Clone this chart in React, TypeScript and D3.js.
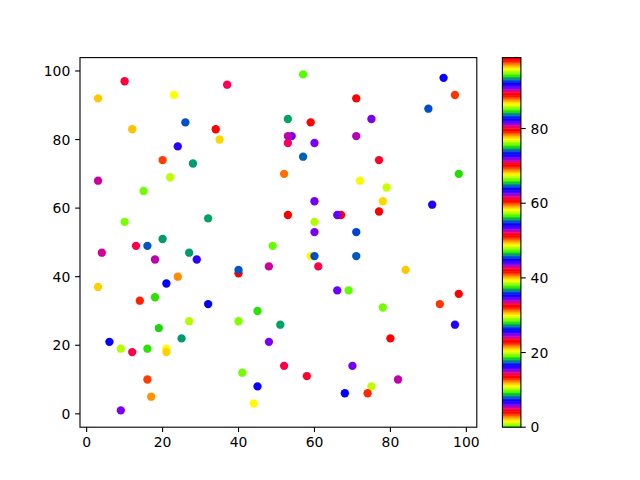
import React, { useEffect, useRef } from "react";
import * as d3 from "d3";

// scatter data
const xs = [10, 37, 3, 23, 26, 12, 34, 35, 24, 20, 28, 3, 22, 15, 32, 10, 20, 13, 16, 49,
  52, 57, 94, 97, 71, 90, 53, 59, 75, 53, 54, 53, 60, 71, 57, 77, 98, 72, 79, 78,
  60, 91, 53, 67, 66, 77, 60, 60, 71, 4, 27, 18, 29, 48, 40, 40, 24, 3, 21, 14,
  18, 32, 27, 40, 45, 51, 19, 25, 6, 9, 12, 16, 21, 21, 48, 16, 17, 9, 41, 45,
  44, 59, 60, 71, 61, 84, 66, 69, 98, 93, 78, 97, 80, 52, 58, 70, 82, 75, 68, 74];
const ys = [97, 96, 92, 93, 85, 83, 83, 80, 78, 74, 73, 68, 69, 65, 57, 56, 51, 49, 49, 49,
  70, 99, 98, 93, 92, 89, 86, 85, 86, 79, 81, 81, 79, 81, 75, 74, 70, 68, 66, 62,
  62, 61, 58, 58, 58, 59, 56, 53, 53, 47, 47, 45, 45, 43, 41, 42, 40, 37, 38, 33,
  34, 32, 27, 27, 30, 26, 25, 22, 21, 19, 18, 19, 19, 18, 21, 10, 5, 1, 12, 8,
  3, 46, 46, 46, 43, 42, 36, 36, 35, 32, 31, 26, 22, 14, 11, 14, 10, 8, 6, 6];
const cs = [33, 71, 40, 11, 55, 59, 4, 2, 54, 41, 18, 43, 67, 57, 84, 76, 65, 52, 74, 38,
  88, 0, 7, 60, 99, 8, 37, 23, 6, 90, 25, 62, 53, 81, 93, 14, 28, 96, 86, 2,
  72, 73, 42, 89, 91, 70, 48, 53, 36, 24, 65, 15, 35, 43, 61, 27, 31, 21, 45, 51,
  47, 26, 48, 95, 94, 37, 9, 65, 26, 1, 5, 94, 30, 21, 53, 41, 12, 6, 10, 7,
  77, 96, 8, 74, 52, 40, 91, 19, 89, 60, 10, 73, 70, 52, 14, 25, 62, 20, 45, 79];

const xTicks = [0, 20, 40, 60, 80, 100];
const yTicks = [0, 20, 40, 60, 80, 100];
const cTicks = [0, 20, 40, 60, 80];

// matplotlib "prism", reversed
const prism = (x: number) => {
  const clip = (v: number) => Math.max(0, Math.min(1, v));
  const r = clip(0.75 * Math.sin((x * 20.9 + 0.25) * Math.PI) + 0.67);
  const g = clip(0.75 * Math.sin((x * 20.9 - 0.25) * Math.PI) + 0.33);
  const b = clip(-1.1 * Math.sin(x * 20.9 * Math.PI));
  return d3.rgb(r * 255, g * 255, b * 255).formatHex();
};
const lut = d3.range(256).map((i) => prism(1 - i / 255));

const App: React.FC = () => {
  const ref = useRef<SVGSVGElement | null>(null);

  useEffect(() => {
    if (!ref.current) return;
    const svg = d3.select(ref.current);
    svg.selectAll("*").remove();

    const left = 80, right = 476.8, top = 57.6, bottom = 427.2;
    const cbLeft = 502.4, cbRight = 520.9;
    const font = "DejaVu Sans, sans-serif";
    const fs = 13.9;
    const tick = 4.86;

    const cmin = d3.min(cs) as number;
    const cmax = d3.max(cs) as number;
    const colorOf = (c: number) => {
      let i = Math.floor(((c - cmin) / (cmax - cmin)) * 256);
      if (i > 255) i = 255;
      return lut[i];
    };

    const xPad = ((d3.max(xs) as number) - (d3.min(xs) as number)) * 0.05;
    const yPad = ((d3.max(ys) as number) - (d3.min(ys) as number)) * 0.05;
    const x = d3.scaleLinear().domain([(d3.min(xs) as number) - xPad, (d3.max(xs) as number) + xPad]).range([left, right]);
    const y = d3.scaleLinear().domain([(d3.min(ys) as number) - yPad, (d3.max(ys) as number) + yPad]).range([bottom, top]);
    const cy = d3.scaleLinear().domain([cmin, cmax]).range([bottom, top]);

    svg.append("rect").attr("width", 640).attr("height", 480).attr("fill", "white");

    // points
    svg.append("g")
      .selectAll("circle")
      .data(d3.range(xs.length))
      .enter()
      .append("circle")
      .attr("cx", (i) => x(xs[i]))
      .attr("cy", (i) => y(ys[i]))
      .attr("r", 4.17)
      .attr("fill", (i) => colorOf(cs[i]));

    // frame
    svg.append("rect")
      .attr("x", left).attr("y", top)
      .attr("width", right - left).attr("height", bottom - top)
      .attr("fill", "none").attr("stroke", "black").attr("stroke-width", 1.11);

    const xg = svg.append("g");
    xTicks.forEach((t) => {
      xg.append("line").attr("x1", x(t)).attr("x2", x(t)).attr("y1", bottom).attr("y2", bottom + tick)
        .attr("stroke", "black").attr("stroke-width", 1.11);
      xg.append("text").attr("x", x(t)).attr("y", bottom + tick + 4.86 + 10.3)
        .attr("text-anchor", "middle").attr("font-family", font).attr("font-size", fs).text(t);
    });
    const yg = svg.append("g");
    yTicks.forEach((t) => {
      yg.append("line").attr("x1", left - tick).attr("x2", left).attr("y1", y(t)).attr("y2", y(t))
        .attr("stroke", "black").attr("stroke-width", 1.11);
      yg.append("text").attr("x", left - tick - 4.86).attr("y", y(t) + 5.1)
        .attr("text-anchor", "end").attr("font-family", font).attr("font-size", fs).text(t);
    });

    // colorbar
    const bands = d3.range(256);
    svg.append("g")
      .selectAll("rect")
      .data(bands)
      .enter()
      .append("rect")
      .attr("x", cbLeft)
      .attr("width", cbRight - cbLeft)
      .attr("y", (i) => cy(cmin + ((i + 1) / 256) * (cmax - cmin)))
      .attr("height", (i) => cy(cmin + (i / 256) * (cmax - cmin)) - cy(cmin + ((i + 1) / 256) * (cmax - cmin)) + 0.4)
      .attr("fill", (i) => lut[i]);
    svg.append("rect")
      .attr("x", cbLeft).attr("y", top)
      .attr("width", cbRight - cbLeft).attr("height", bottom - top)
      .attr("fill", "none").attr("stroke", "black").attr("stroke-width", 1.11);
    const cg = svg.append("g");
    cTicks.forEach((t) => {
      cg.append("line").attr("x1", cbRight).attr("x2", cbRight + tick).attr("y1", cy(t)).attr("y2", cy(t))
        .attr("stroke", "black").attr("stroke-width", 1.11);
      cg.append("text").attr("x", cbRight + tick + 4.86).attr("y", cy(t) + 5.1)
        .attr("text-anchor", "start").attr("font-family", font).attr("font-size", fs).text(t);
    });
  }, []);

  return (
    <svg
      ref={ref}
      width={640}
      height={480}
      style={{ position: "absolute", left: 0, top: 0, display: "block" }}
    />
  );
};

export default App;
